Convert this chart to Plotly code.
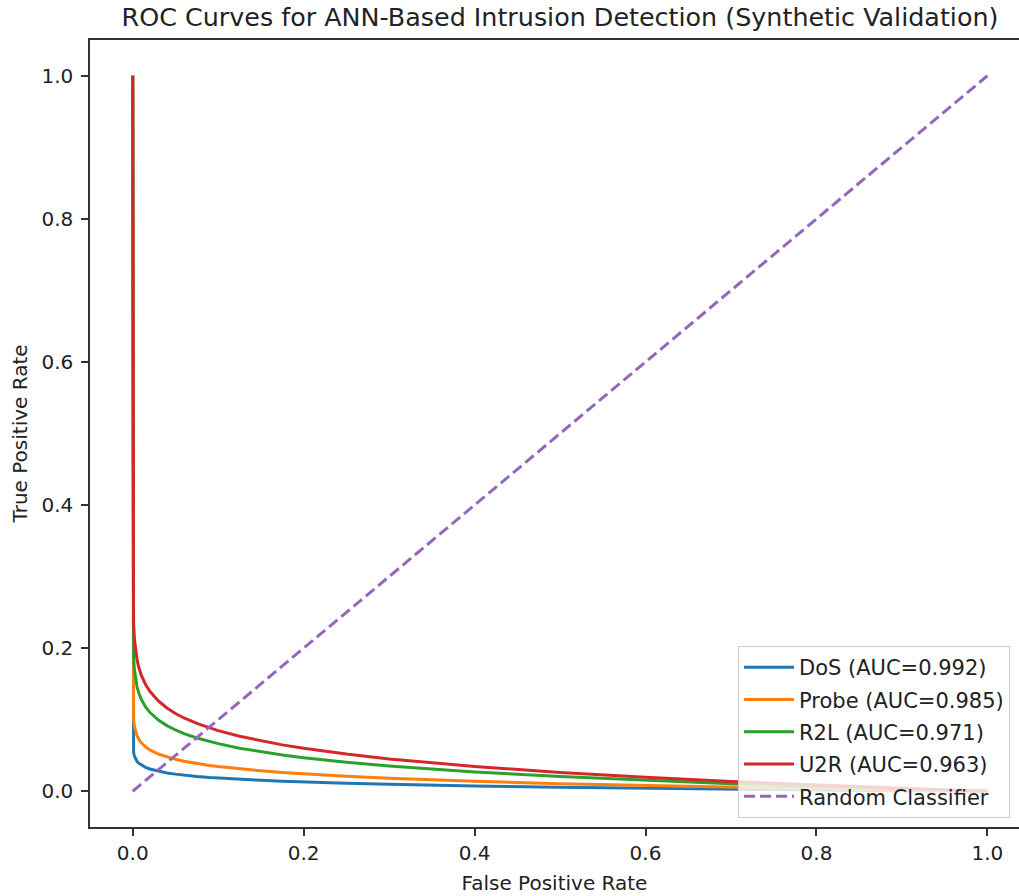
import plotly.graph_objects as go

# False positive rate grid
fpr = [0.0, 0.001, 0.002, 0.0035, 0.005, 0.007, 0.01, 0.015, 0.02, 0.03,
       0.04, 0.05, 0.06, 0.075, 0.09, 0.1, 0.125, 0.15, 0.175, 0.2,
       0.25, 0.3, 0.35, 0.4, 0.5, 0.6, 0.7, 0.8, 0.9, 1.0]

# True positive rate per attack class
tpr_dos = [1.0, 0.0542, 0.0489, 0.0446, 0.0418, 0.0392, 0.0365, 0.0333, 0.0311, 0.0279,
           0.0256, 0.0239, 0.0224, 0.0207, 0.0192, 0.0184, 0.0166, 0.0152, 0.0140, 0.0129,
           0.0111, 0.0097, 0.0084, 0.0074, 0.0056, 0.0041, 0.0029, 0.0018, 0.0008, 0.0]
tpr_probe = [1.0, 0.0999, 0.0903, 0.0825, 0.0775, 0.0728, 0.0677, 0.0620, 0.0578, 0.0520,
             0.0478, 0.0446, 0.0419, 0.0387, 0.0360, 0.0345, 0.0312, 0.0285, 0.0262, 0.0242,
             0.0209, 0.0182, 0.0159, 0.0139, 0.0105, 0.0078, 0.0054, 0.0034, 0.0016, 0.0]
tpr_r2l = [1.0, 0.1864, 0.1694, 0.1554, 0.1463, 0.1377, 0.1285, 0.1179, 0.1103, 0.0994,
           0.0917, 0.0856, 0.0806, 0.0744, 0.0694, 0.0665, 0.0602, 0.0551, 0.0507, 0.0469,
           0.0405, 0.0353, 0.0309, 0.0270, 0.0205, 0.0151, 0.0106, 0.0066, 0.0031, 0.0]
tpr_u2r = [1.0, 0.2331, 0.2124, 0.1953, 0.1842, 0.1736, 0.1622, 0.1490, 0.1396, 0.1261,
           0.1163, 0.1087, 0.1024, 0.0947, 0.0884, 0.0847, 0.0768, 0.0703, 0.0648, 0.0600,
           0.0519, 0.0452, 0.0395, 0.0346, 0.0263, 0.0194, 0.0136, 0.0085, 0.0040, 0.0]

classes = ["DoS", "Probe", "R2L", "U2R"]
aucs = [0.992, 0.985, 0.971, 0.963]
tprs = [tpr_dos, tpr_probe, tpr_r2l, tpr_u2r]
colors = ["#1f77b4", "#ff7f0e", "#2ca02c", "#d62728"]

diag_x = [0.0, 1.0]
diag_y = [0.0, 1.0]

x_ticks = [0.0, 0.2, 0.4, 0.6, 0.8, 1.0]
y_ticks = [0.0, 0.2, 0.4, 0.6, 0.8, 1.0]

fig = go.Figure()
for name, auc, t, c in zip(classes, aucs, tprs, colors):
    fig.add_trace(go.Scatter(x=fpr, y=t, mode="lines",
                             name=f"{name} (AUC={auc:.3f})", legendgroup=name,
                             line=dict(color=c, width=3)))
fig.add_trace(go.Scatter(x=diag_x, y=diag_y, mode="lines", name="Random Classifier",
                         legendgroup="random",
                         line=dict(color="#9467bd", width=3, dash="11px,5px")))

axis_common = dict(showgrid=False, zeroline=False, showline=True, linecolor="#333333",
                   linewidth=1.5, ticks="outside", ticklen=7, tickwidth=1.5,
                   tickcolor="#333333", tickfont=dict(size=20, color="#222222"),
                   tickformat=".1f", automargin=False)

fig.update_layout(
    width=1019, height=896,
    margin=dict(l=90, r=0, t=40, b=69),
    paper_bgcolor="white", plot_bgcolor="white",
    font=dict(family="DejaVu Sans", color="#222222"),
    title=dict(text="ROC Curves for ANN-Based Intrusion Detection (Synthetic Validation)",
               x=560/1019, xanchor="center", y=1-17/896, yanchor="middle",
               font=dict(size=25.4, color="#222222"), automargin=False),
    xaxis=dict(range=[-0.05, 1.037], tickvals=x_ticks, mirror=True,
               title=dict(text="False Positive Rate", font=dict(size=20), standoff=12),
               **axis_common),
    yaxis=dict(range=[-0.05, 1.05], tickvals=y_ticks, ticklabelstandoff=4,
               title=dict(text="True Positive Rate", font=dict(size=20), standoff=8),
               **axis_common),
    legend=dict(x=(738-90)/929, xanchor="left", y=0.23, yanchor="top",
                bgcolor="rgba(255,255,255,0.8)", bordercolor="#cccccc", borderwidth=1,
                itemwidth=50, tracegroupgap=2,
                font=dict(size=21, color="#222222")),
)

fig.write_html("out.html", config={"displayModeBar": False},
               post_script="document.body.style.margin='0';")
